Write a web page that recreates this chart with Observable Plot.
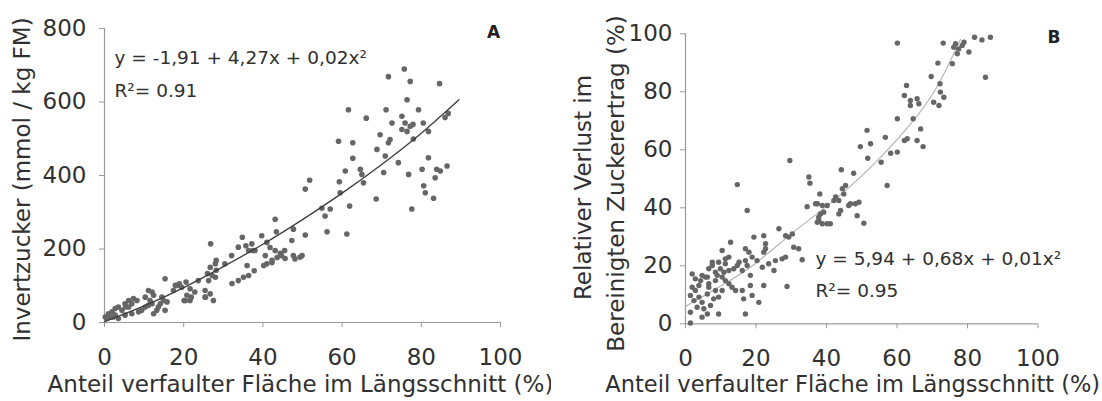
<!DOCTYPE html>
<html><head><meta charset="utf-8">
<script src="https://cdn.jsdelivr.net/npm/d3@7"></script>
<script src="https://cdn.jsdelivr.net/npm/@observablehq/plot@0.6"></script>
<style>
html,body{margin:0;padding:0;background:#fff;}
#wrap{position:relative;width:1102px;height:401px;overflow:hidden;background:#fff;}
#a,#b{position:absolute;top:0;width:551px;height:401px;}
#a{left:0;} #b{left:551px;}
svg [aria-label="x-axis tick"], svg [aria-label="y-axis tick"],
svg [aria-label="x-axis tick"] path, svg [aria-label="y-axis tick"] path {stroke:#9a9a9a !important;}
</style></head>
<body><div id="wrap"><div id="a"></div><div id="b"></div></div>
<script>
// ---- tick values ----
const xTicks = [0, 20, 40, 60, 80, 100];
const yTicksA = [0, 200, 400, 600, 800];
const yTicksB = [0, 20, 40, 60, 80, 100];

// ---- texts ----
const xTitle = "Anteil verfaulter Fläche im Längsschnitt (%)";
const yTitleA = "Invertzucker (mmol / kg FM)";
const yTitleB1 = "Relativer Verlust im";
const yTitleB2 = "Bereinigten Zuckerertrag (%)";
const eqA = "y = -1,91 + 4,27x + 0,02x²";
const r2A = "R²= 0.91";
const eqB = "y = 5,94 + 0,68x + 0,01x²";
const r2B = "R²= 0.95";

// ---- panel A data (Anteil %, Invertzucker) ----
const aX = [75.7,71.7,77.2,84.6,76.4,61.6,71.1,79.3,66.1,75.1,72.6,75.9,77.2,75.1,76.4,77.9,80.5,81.8,86.8,86,69.6,72.1,71.7,59.1,62.7,68.8,70.9,74.2,62.7,81.8,78,80.2,83.9,84.8,86.5,60.8,64.6,65,76.8,70.5,
83.5,51.8,50.7,59.3,65.4,59.5,68.6,80.6,81,83.1,77.6,54.9,57,55.7,61.9,43.1,43.4,47.3,50.7,56.2,61.2,47.7,41.8,43.1,44.4,40.6,45.6,42.3,47.7,49.4,40.2,
39.7,41,34.8,35.7,37.5,26.8,28.2,32.1,30.4,36,37.8,41,42.3,44.7,45.5,43.6,48.1,49.9,15.3,20.6,18.9,17.9,21.6,22.8,21.9,20.1,25.5,23.7,28.2,27.2,26,
11.1,12.4,11.5,8.2,6.9,6.1,5.3,2.7,3.5,4.4,1.9,1,0.2,9.4,10.3,11.1,12,14.5,14.9,14.1,15.8,15.3,13.6,17.4,18.3,19.5,20.8,21.6,20.4,25.4,26.7,27.5,25.4,26.3,28,32.2,33.8,35.1,36.4,28,26.7,33.8,36.4,37.2,38,5.2,6.9,3.5,8.6,2.7,2.2,0.6,1.4,1,13.2,12.4,6.1,7.3,5.2,10.3,12];
const aY = [690,669,656,650,606,579,579,579,556,561,543,543,534,525,520,539,543,520,569,558,511,498,489,493,489,471,453,435,447,448,499,417,417,412,426,412,417,403,403,408,
394,387,363,383,380,353,336,372,353,338,309,311,309,290,317,281,247,223,238,247,241,254,204,196,188,182,174,163,182,178,155,
236,218,232,209,196,214,169,182,160,155,141,160,169,182,196,177,173,182,119,110,105,101,92,83,69,60,69,114,142,128,133,
87,74,60,60,51,42,42,38,42,33,29,20,15,33,42,47,51,69,60,51,56,33,42,87,101,96,74,60,60,87,78,60,69,114,123,106,114,123,128,160,150,205,196,214,196,20,24,11,29,20,15,11,15,24,33,24,60,65,51,69,83];

// trend line A
const trendAX = [0, 10, 20, 30, 40, 50, 60, 70, 80, 89.5];
const trendAY = [2, 45, 95, 152, 213, 280, 352, 430, 515, 606];

// ---- panel B data (Anteil %, relativer Verlust %) ----
const bX = [60.1,73.1,76.6,78.5,77.5,77.1,79,76.1,80.4,82,75.7,71.6,69.7,72.2,62.7,62.1,63.8,63.8,65.7,66.2,72.3,73.3,70.4,71.9,60.1,64.6,66.7,51.5,56.7,62.9,62.1,65.7,67.4,49.6,52.5,58.2,60.1,51.7,55.5,29.6,44.2,47.7,35,35.3,45.4,44.5,44.9,57.2,38.1,42.6,43.5,42.1,46.8,48.2,49.2,46.3,34.5,37.4,38.8,40.2,44,43.5,48.7,38.3,37.8,38.8,40.2,41.1,50.6,85.1,86.5,84.1,
14.7,17.5,36.9,39.2,37.8,37.4,26.5,12.8,10.4,19.4,22.2,22.7,22.2,22.7,28.4,29.3,30.3,30.7,32.1,33.1,27.4,28.4,25.1,28.8,22.2,18.4,18.4,16.1,16.5,20.8,18.9,17,9.4,17,17.5,16.1,14.7,13.7,15.2,17,18.9,20.3,18,12.3,11.3,9.4,7.6,6.6,8.5,10.9,12.3,7.6,5.7,4.7,8.5,10.4,11.3,12.3,13.2,14.2,1.9,2.8,3.8,1.4,2.4,3.8,4.7,3.3,5.2,6.2,4.7,7.1,8,6.2,8.5,6.6,9.4,10.4,1.4,1.4,6.2,9,9.9,11.3,6.6,4.3,2.8,1.9,21.8,23.6,25.5];
const bY = [96.8,96.8,96.6,96,94.8,93.1,97.1,95.4,93.7,98.8,89.7,89.9,85.3,82.8,82.2,78.7,77,75.3,77.6,75.9,79.9,78.1,76.4,75.3,70.7,70.7,67.2,66.7,64.3,63.8,63.2,63.2,61.1,61.1,62.1,58.8,59.2,57.1,55.7,56.3,53.1,51.9,50.6,48.5,47.7,46.6,44.8,47.7,44.8,43.7,42.5,42.5,41.4,41.4,41.9,40.8,40.4,41.4,40.8,40.8,39.1,37.9,37.3,37.9,35.6,34.5,34.5,34.5,34.7,85,98.8,97.9,
48,39.1,41.4,38.5,36.8,35,32.8,28.1,25.3,29.9,30.4,27.6,24.7,25.9,30.4,29.9,31,26.4,25.9,22.1,22.4,23,18.4,12.9,13.2,16.7,13.2,11.5,8.6,7.4,9.8,3.4,3.4,21.8,20.1,18.4,20.1,19,21.2,25.9,23,21.8,24.7,23,22.4,21.2,20.1,19,17.8,17.8,18.4,21.2,16.1,16.7,14.9,16.1,14.9,13.8,12.6,11.5,12.6,11.5,13.2,9.8,8,9.2,7.4,5.7,5.2,3.4,2.3,6.3,8.6,10.3,11.5,12.6,9.2,11.5,4,0.3,16.1,16.7,19,20.7,13.8,14.9,15.5,17.2,19.5,20.7,21.8];

// trend line B
const trendBX = [0, 10, 20, 30, 40, 50, 60, 70, 78];
const trendBY = [6, 13, 21, 31, 40.5, 51, 63.5, 79, 98];

const dataA = aX.map((x, i) => ({x, y: aY[i]}));
const dataB = bX.map((x, i) => ({x, y: bY[i]}));
const lineA = trendAX.map((x, i) => ({x, y: trendAY[i]}));
const lineB = trendBX.map((x, i) => ({x, y: trendBY[i]}));

const FONT = "'DejaVu Sans', sans-serif";
const AXIS = "#9a9a9a";
const TXT = "#303030";
const DOT = "#666666";

const T = (s, o) => Plot.text([s], {textAnchor: "middle", lineAnchor: "middle", fill: TXT, ...o});

const plotA = Plot.plot({
  width: 551, height: 401,
  marginLeft: 104, marginRight: 51, marginTop: 28, marginBottom: 79,
  style: {fontFamily: FONT, fontSize: "23px", color: TXT, background: "white", overflow: "visible"},
  x: {domain: [0, 100], ticks: xTicks, tickSize: 5, tickPadding: 21, label: null},
  y: {domain: [0, 800], ticks: yTicksA, tickSize: 5, tickPadding: 13, label: null},
  marks: [
    Plot.ruleX([0], {stroke: AXIS, strokeWidth: 1.2}),
    Plot.ruleY([0], {stroke: AXIS, strokeWidth: 1.2}),
    Plot.dot(dataA, {x: "x", y: "y", r: 2.8, fill: DOT}),
    Plot.line(lineA, {x: "x", y: "y", stroke: "#3c3c3c", strokeWidth: 1.3, curve: "natural"}),
    T(eqA, {frameAnchor: "top-left", dx: 10, dy: 29.5, textAnchor: "start", fontSize: 18.5}),
    T(r2A, {frameAnchor: "top-left", dx: 10, dy: 62.5, textAnchor: "start", fontSize: 18.5}),
    T("A", {frameAnchor: "top-left", dx: 389, dy: 4, fontSize: 17, fontWeight: "bold", fill: "#222"}),
    T(xTitle, {frameAnchor: "bottom", dx: -2, dy: 62.4, fontSize: 23}),
    T(yTitleA, {frameAnchor: "left", rotate: -90, dx: -82, dy: 4, fontSize: 23})
  ]
});

const plotB = Plot.plot({
  width: 551, height: 401,
  marginLeft: 134, marginRight: 64.5, marginTop: 33.3, marginBottom: 77.7,
  style: {fontFamily: FONT, fontSize: "23px", color: TXT, background: "white", overflow: "visible"},
  x: {domain: [0, 100], ticks: xTicks, tickSize: 5, tickPadding: 21, label: null},
  y: {domain: [0, 100], ticks: yTicksB, tickSize: 5, tickPadding: 8, label: null},
  marks: [
    Plot.ruleX([0], {stroke: AXIS, strokeWidth: 1.2}),
    Plot.ruleY([0], {stroke: AXIS, strokeWidth: 1.2}),
    Plot.line(lineB, {x: "x", y: "y", stroke: "#b4b4b4", strokeWidth: 1.2, curve: "natural"}),
    Plot.dot(dataB, {x: "x", y: "y", r: 2.7, fill: DOT}),
    T(eqB, {frameAnchor: "top-left", dx: 130, dy: 225.2, textAnchor: "start", fontSize: 18.5}),
    T(r2B, {frameAnchor: "top-left", dx: 130, dy: 257.2, textAnchor: "start", fontSize: 18.5}),
    T("B", {frameAnchor: "top-left", dx: 368.5, dy: 3.4, fontSize: 17, fontWeight: "bold", fill: "#222"}),
    T(xTitle, {frameAnchor: "bottom", dx: -9, dy: 61.4, fontSize: 22.5}),
    T(yTitleB1, {frameAnchor: "left", rotate: -90, dx: -102, dy: 8.7, fontSize: 23}),
    T(yTitleB2, {frameAnchor: "left", rotate: -90, dx: -69, dy: 4.7, fontSize: 23})
  ]
});

document.getElementById("a").appendChild(plotA);
document.getElementById("b").appendChild(plotB);
</script>
</body></html>
